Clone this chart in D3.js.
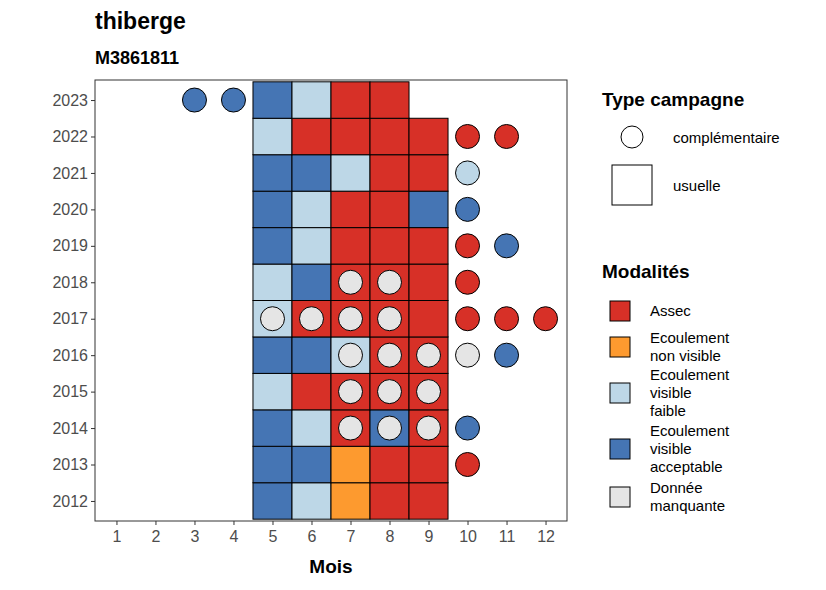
<!DOCTYPE html>
<html><head><meta charset="utf-8">
<script src="https://cdn.jsdelivr.net/npm/d3@7"></script>
<style>body{margin:0;background:#fff;font-family:"Liberation Sans",Arial,sans-serif}</style>
</head><body><div id="chart"></div>
<script>
const years = [2012,2013,2014,2015,2016,2017,2018,2019,2020,2021,2022,2023];
const months = [1,2,3,4,5,6,7,8,9,10,11,12];
const modalites = ["Assec","Ecoulement non visible","Ecoulement visible faible","Ecoulement visible acceptable","Donnée manquante"];
const modColors = ["#d73027","#fd9a2f","#bdd7e7","#4575b4","#e5e5e5"];
// usual campaign (months 5..9), codes: A assec, N non visible, F faible, V acceptable
const usualMonths = [5,6,7,8,9];
const usual = {
  2012:["V","F","N","A","A"], 2013:["V","V","N","A","A"], 2014:["V","F","A","V","A"],
  2015:["F","A","A","A","A"], 2016:["V","V","F","A","A"], 2017:["F","A","A","A","A"],
  2018:["F","V","A","A","A"], 2019:["V","F","A","A","A"], 2020:["V","F","A","A","V"],
  2021:["V","V","F","A","A"], 2022:["F","A","A","A","A"], 2023:["V","F","A","A",null]
};
// complementary campaign: [year, month, code] (M = donnée manquante)
const compl = [
  [2023,3,"V"],[2023,4,"V"],[2022,10,"A"],[2022,11,"A"],[2021,10,"F"],[2020,10,"V"],
  [2019,10,"A"],[2019,11,"V"],[2018,7,"M"],[2018,8,"M"],[2018,10,"A"],
  [2017,5,"M"],[2017,6,"M"],[2017,7,"M"],[2017,8,"M"],[2017,10,"A"],[2017,11,"A"],[2017,12,"A"],
  [2016,7,"M"],[2016,8,"M"],[2016,9,"M"],[2016,10,"M"],[2016,11,"V"],
  [2015,7,"M"],[2015,8,"M"],[2015,9,"M"],[2014,7,"M"],[2014,8,"M"],[2014,9,"M"],[2014,10,"V"],
  [2013,10,"A"]
];
const codeIdx = {A:0,N:1,F:2,V:3,M:4};

const W=826,H=590;
const svg=d3.select("#chart").append("svg").attr("width",W).attr("height",H);
const x=d3.scaleLinear().domain([0.45,12.55]).range([95,567]);
const y=d3.scaleLinear().domain([2011.45,2023.55]).range([521,80]);
const bw=x(1)-x(0), bh=y(0)-y(1);

svg.append("rect").attr("x",95).attr("y",80).attr("width",472).attr("height",441)
  .attr("fill","#fff").attr("stroke","#333").attr("stroke-width",1);

const tiles=[];
years.forEach(yr=>usual[yr].forEach((c,i)=>{ if(c) tiles.push({yr,m:usualMonths[i],c}); }));
svg.selectAll("rect.t").data(tiles).join("rect").attr("class","t")
  .attr("x",d=>x(d.m)-bw/2).attr("y",d=>y(d.yr)-bh/2).attr("width",bw).attr("height",bh)
  .attr("fill",d=>modColors[codeIdx[d.c]]).attr("stroke","#000").attr("stroke-width",1);
svg.selectAll("circle.c").data(compl).join("circle").attr("class","c")
  .attr("cx",d=>x(d[1])).attr("cy",d=>y(d[0])).attr("r",12)
  .attr("fill",d=>modColors[codeIdx[d[2]]]).attr("stroke","#000").attr("stroke-width",1);

const xa=svg.append("g").attr("transform","translate(0,521)")
  .call(d3.axisBottom(x).tickValues(months).tickFormat(d3.format("d")).tickSize(4));
const ya=svg.append("g").attr("transform","translate(95,0)")
  .call(d3.axisLeft(y).tickValues(years).tickFormat(d3.format("d")).tickSize(4));
[xa,ya].forEach(a=>{a.select(".domain").remove();
  a.selectAll("text").attr("fill","#4d4d4d").style("font-size","16px").style("font-family","Liberation Sans, Arial");
  a.selectAll("line").attr("stroke","#333");});
xa.selectAll("text").attr("dy","0.9em");

svg.append("text").attr("x",331).attr("y",573).attr("text-anchor","middle")
  .style("font-size","19px").style("font-weight","bold").text("Mois");
svg.append("text").attr("x",95).attr("y",29).style("font-size","23px").style("font-weight","bold").text("thiberge");
svg.append("text").attr("x",95).attr("y",64).style("font-size","18px").style("font-weight","bold").text("M3861811");

// legends
const lg=svg.append("g");
lg.append("text").attr("x",602).attr("y",106).style("font-size","19px").style("font-weight","bold").text("Type campagne");
lg.append("circle").attr("cx",632).attr("cy",137).attr("r",11).attr("fill","#fff").attr("stroke","#000");
lg.append("text").attr("x",673).attr("y",143).style("font-size","15px").text("complémentaire");
lg.append("rect").attr("x",612).attr("y",165).attr("width",40).attr("height",40).attr("fill","#fff").attr("stroke","#000");
lg.append("text").attr("x",673).attr("y",191).style("font-size","15px").text("usuelle");
lg.append("text").attr("x",602).attr("y",278).style("font-size","19px").style("font-weight","bold").text("Modalités");
const keyY=[311,347,393,449,497];
const keyLines=[["Assec"],["Ecoulement","non visible"],["Ecoulement","visible","faible"],["Ecoulement","visible","acceptable"],["Donnée","manquante"]];
modalites.forEach((m,i)=>{
  lg.append("rect").attr("x",610).attr("y",keyY[i]-10).attr("width",20).attr("height",20)
    .attr("fill",modColors[i]).attr("stroke","#000");
  const ls=keyLines[i], t=lg.append("text").style("font-size","15px");
  ls.forEach((l,j)=>t.append("tspan").attr("x",650).attr("y",keyY[i]+5+(j-(ls.length-1)/2)*18).text(l));
});
</script></body></html>
